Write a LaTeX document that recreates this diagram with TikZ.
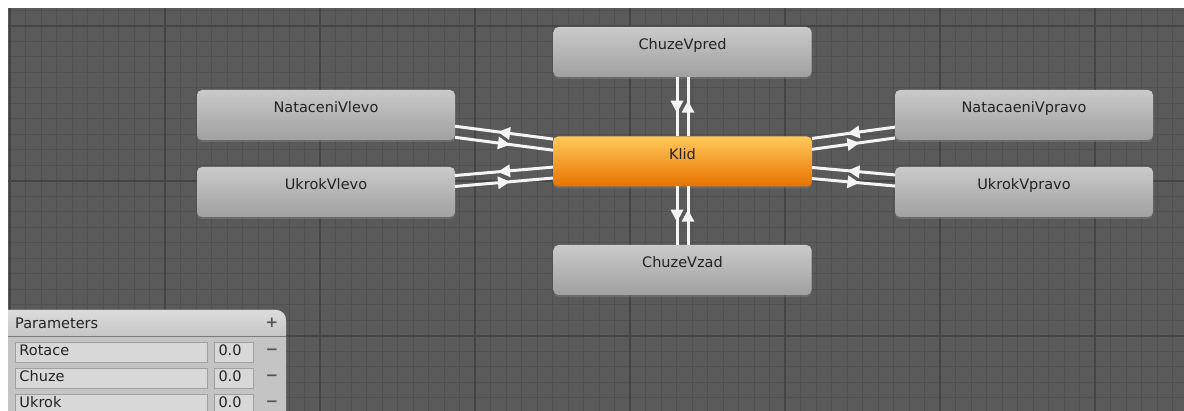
\documentclass[tikz,border=0pt]{standalone}
\usepackage{fontspec}
\setmainfont{DejaVu Sans}
\usetikzlibrary{decorations.markings,shadows}

\definecolor{gridbg}{HTML}{5A5A5A}
\definecolor{gridminor}{HTML}{505050}
\definecolor{gridmajor}{HTML}{454545}
\definecolor{statetop}{HTML}{CACACA}
\definecolor{statebot}{HTML}{A0A0A0}
\definecolor{deftop}{HTML}{FFC95A}
\definecolor{defbot}{HTML}{E87200}
\definecolor{labeltext}{HTML}{222222}
\definecolor{panelhead}{HTML}{DCDCDC}
\definecolor{panelheadbot}{HTML}{BDBDBD}
\definecolor{panelbody}{HTML}{C4C4C4}
\definecolor{panelline}{HTML}{7C7C7C}
\definecolor{fieldfill}{HTML}{D8D8D8}
\definecolor{fieldedge}{HTML}{A0A0A0}
\definecolor{btncolor}{HTML}{555555}
\definecolor{transline}{HTML}{F4F4F4}

\tikzset{
  animstate/.style={rounded corners=5pt, top color=statetop, bottom color=statebot,
    minimum width=258pt, minimum height=50pt, inner ysep=0pt,
    text height=23pt, text depth=27pt, text=labeltext, outer sep=0pt,
    font=\fontsize{14.5}{16}\selectfont,
    drop shadow={shadow xshift=0pt, shadow yshift=-2pt, opacity=0.45}},
  defstate/.style={animstate, top color=deftop, bottom color=defbot},
  trans/.style={draw=transline, line width=3pt, postaction={decorate},
    decoration={markings, mark=at position 0.5 with
      {\fill[transline] (6pt,0pt) -- (-6pt,6.5pt) -- (-6pt,-6.5pt) -- cycle;}}},
  hiline/.style={transform canvas={yshift=5.5pt}},
  loline/.style={transform canvas={yshift=-5.5pt}},
  lline/.style={transform canvas={xshift=-5.5pt}},
  rline/.style={transform canvas={xshift=5.5pt}},
  namefield/.style={anchor=north west, fill=fieldfill, draw=fieldedge, line width=1pt,
    minimum height=20pt, inner xsep=4pt, inner ysep=0pt, text width=184pt, align=left,
    text height=10pt, text depth=3pt, font=\fontsize{14.5}{16}\selectfont, text=labeltext},
  valfield/.style={namefield, text width=31pt},
  btn/.style={text=btncolor, inner sep=0pt, font=\fontsize{15}{16}\selectfont\bfseries}
}

\begin{document}
\begin{tikzpicture}[x=1pt, y=-1pt]
    \useasboundingbox (0,0) rectangle (1184,411);
    \fill[white] (0,0) rectangle (1184,411);
    \begin{scope}
    \clip (8,8) rectangle (1184,411);
    % grid
    \fill[gridbg] (8,8) rectangle (1184,411);
    \foreach \i in {0,...,76}
        \draw[gridminor, line width=1pt] ({10+15.5*\i},8) -- ({10+15.5*\i},411);
    \foreach \i in {0,...,26}
        \draw[gridminor, line width=1pt] (8,{10.5+15.5*\i}) -- (1184,{10.5+15.5*\i});
    \foreach \i in {0,...,7}
        \draw[gridmajor, line width=1.3pt] ({10+155*\i},8) -- ({10+155*\i},411);
    \foreach \i in {0,...,2}
        \draw[gridmajor, line width=1.3pt] (8,{26+155*\i}) -- (1184,{26+155*\i});
    % parameters panel
    \fill[panelbody, rounded corners=10pt] (-20,310) rectangle (286,430);
    \shade[top color=panelhead, bottom color=panelheadbot, rounded corners=10pt]
        (-20,310) rectangle (286,345);
    \fill[panelbody] (-20,337) rectangle (286,430);
    \draw[panelline, line width=1pt] (-20,336.5) -- (286,336.5);
    \node[anchor=base west, inner sep=0pt, text=labeltext,
        font=\fontsize{14.5}{16}\selectfont] (ptitle) at (15,329) {Parameters};
    \node[btn] (padd) at (272,323) {+};
    \node[namefield] (prot) at (15,342) {Rotace};
    \node[valfield] (vrot) at (214,342) {0.0};
    \node[btn] (mrot) at (272,352) {−};
    \node[namefield] (pchu) at (15,368) {Chuze};
    \node[valfield] (vchu) at (214,368) {0.0};
    \node[btn] (mchu) at (272,378) {−};
    \node[namefield] (pukr) at (15,394) {Ukrok};
    \node[valfield] (vukr) at (214,394) {0.0};
    \node[btn] (mukr) at (272,404) {−};
    \end{scope}
    % states
    \node[animstate] (vpred) at (682.5,52) {ChuzeVpred};
    \node[defstate, minimum width=259pt] (klid) at (682.5,161.5) {Klid};
    \node[animstate] (vzad) at (682.5,270) {ChuzeVzad};
    \node[animstate] (nlevo) at (326,115) {NataceniVlevo};
    \node[animstate] (ulevo) at (326,192) {UkrokVlevo};
    \node[animstate] (npravo) at (1024,115) {NatacaeniVpravo};
    \node[animstate] (upravo) at (1024,192) {UkrokVpravo};
    % transitions
    \draw[trans, rline] (klid) -- (vpred);
    \draw[trans, lline] (vpred) -- (klid);
    \draw[trans, lline] (klid) -- (vzad);
    \draw[trans, rline] (vzad) -- (klid);
    \draw[trans, hiline] (klid) -- (nlevo);
    \draw[trans, loline] (nlevo) -- (klid);
    \draw[trans, hiline] (klid) -- (ulevo);
    \draw[trans, loline] (ulevo) -- (klid);
    \draw[trans, loline] (klid) -- (npravo);
    \draw[trans, hiline] (npravo) -- (klid);
    \draw[trans, loline] (klid) -- (upravo);
    \draw[trans, hiline] (upravo) -- (klid);
\end{tikzpicture}
\end{document}
